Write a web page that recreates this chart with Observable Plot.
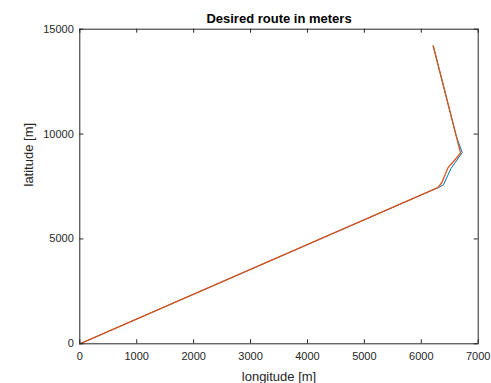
<!DOCTYPE html>
<html>
<head>
<meta charset="utf-8">
<script src="https://cdn.jsdelivr.net/npm/d3@7"></script>
<script src="https://cdn.jsdelivr.net/npm/@observablehq/plot@0.6"></script>
<style>
  html, body { margin: 0; padding: 0; background: #fff; }
  svg { display: block; }
</style>
</head>
<body>
<div id="chart"></div>
<script>
const title = "Desired route in meters";
const xLabel = "longitude [m]";
const yLabel = "latitude [m]";
const xTicks = [0, 1000, 2000, 3000, 4000, 5000, 6000, 7000];
const yTicks = [0, 5000, 10000, 15000];

// planned route (blue)
const blueLon = [0, 6300, 6390, 6520, 6720, 6620, 6210];
const blueLat = [0, 7450, 7580, 8350, 9120, 9850, 14200];
// desired route (orange)
const orangeLon = [0, 6290, 6360, 6470, 6600, 6690, 6210];
const orangeLat = [0, 7450, 7680, 8400, 8800, 9100, 14200];

const blue = blueLon.map((x, i) => ({x, y: blueLat[i]}));
const orange = orangeLon.map((x, i) => ({x, y: orangeLat[i]}));

const ink = "#262626";
const font = "Liberation Sans, Arial, Helvetica, sans-serif";

const W = 491, H = 383, mL = 79.3, mR = 13.3, mT = 28.7, mB = 39.7;
const frameW = W - mL - mR, frameH = H - mT - mB, tk = 4;

const plot = Plot.plot({
  width: W,
  height: H,
  marginLeft: mL,
  marginRight: mR,
  marginTop: mT,
  marginBottom: mB,
  style: {fontFamily: font, color: ink, background: "#fff"},
  x: {domain: [0, 7000]},
  y: {domain: [0, 15000]},
  marks: [
    Plot.line(blue, {x: "x", y: "y", stroke: "#0072BD", strokeWidth: 1}),
    Plot.line(orange, {x: "x", y: "y", stroke: "#D95319", strokeWidth: 1.3}),
    Plot.frame({stroke: ink, strokeWidth: 1}),
    // inward ticks on all sides
    Plot.tickX(xTicks, {x: d => d, insetTop: frameH - tk, stroke: ink}),
    Plot.tickX(xTicks, {x: d => d, insetBottom: frameH - tk, stroke: ink}),
    Plot.tickY(yTicks, {y: d => d, insetRight: frameW - tk, stroke: ink}),
    Plot.tickY(yTicks, {y: d => d, insetLeft: frameW - tk, stroke: ink}),
    // tick labels
    Plot.axisX({anchor: "bottom", ticks: xTicks, tickSize: 0, tickPadding: 8, tickFormat: d3.format("d"), label: null, fontSize: 11, fill: ink}),
    Plot.axisY({anchor: "left", ticks: yTicks, tickSize: 0, tickPadding: 6, tickFormat: d3.format("d"), label: null, fontSize: 11, fill: ink}),
    // titles
    Plot.text([title], {frameAnchor: "top", dy: -10.7, lineAnchor: "middle", fontSize: 13, fontWeight: "bold", fill: "#000"}),
    Plot.text([xLabel], {frameAnchor: "bottom", dy: 33, lineAnchor: "middle", fontSize: 13, fill: ink}),
    Plot.text([yLabel], {frameAnchor: "left", dx: -51, rotate: -90, lineAnchor: "middle", fontSize: 13, fill: ink})
  ]
});
document.getElementById("chart").appendChild(plot);
</script>
</body>
</html>
